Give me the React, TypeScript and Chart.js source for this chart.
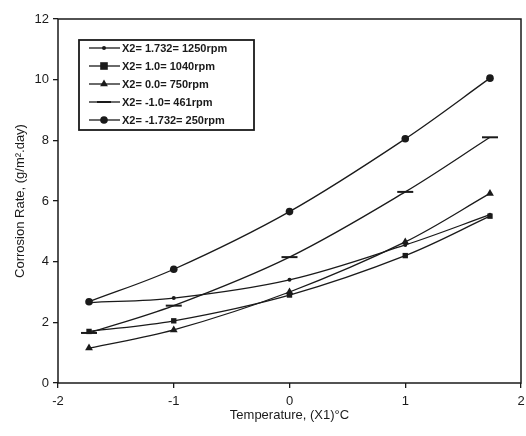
import React, { useEffect, useRef } from "react";
import { Chart, registerables } from "chart.js";

Chart.register(...registerables);

const xValues = [-1.732, -1, 0, 1, 1.732];
const seriesLabels = [
  "X2= 1.732= 1250rpm",
  "X2= 1.0= 1040rpm",
  "X2= 0.0= 750rpm",
  "X2= -1.0= 461rpm",
  "X2= -1.732= 250rpm",
];
const rpm1250 = [2.65, 2.8, 3.4, 4.55, 5.55];
const rpm1040 = [1.7, 2.05, 2.9, 4.2, 5.5];
const rpm750 = [1.15, 1.75, 3.0, 4.65, 6.25];
const rpm461 = [1.65, 2.55, 4.15, 6.3, 8.1];
const rpm250 = [2.68, 3.75, 5.65, 8.05, 10.05];
const xTicks = [-2, -1, 0, 1, 2];
const yTicks = [0, 2, 4, 6, 8, 10, 12];

const INK = "#1a1a1a";
const FONT = "'Liberation Sans', Arial, sans-serif";

const styles = [
  { pointStyle: "circle", radius: 2 },
  { pointStyle: "rect", radius: 3.8 },
  { pointStyle: "triangle", radius: 4.5 },
  { pointStyle: "line", radius: 8 },
  { pointStyle: "circle", radius: 3.8 },
];

const allSeries = [rpm1250, rpm1040, rpm750, rpm461, rpm250];

function drawMarker(ctx: any, style: string, r: number, x: number, y: number) {
  ctx.beginPath();
  if (style === "circle") {
    ctx.arc(x, y, r, 0, Math.PI * 2);
  } else if (style === "rect") {
    ctx.rect(x - r, y - r, r * 2, r * 2);
  } else if (style === "triangle") {
    ctx.moveTo(x, y - r);
    ctx.lineTo(x + r * 0.87, y + r * 0.5);
    ctx.lineTo(x - r * 0.87, y + r * 0.5);
    ctx.closePath();
  }
  ctx.fill();
}

const frameAndLegend = {
  id: "frameAndLegend",
  afterDraw(chart: any) {
    const ctx = chart.ctx;
    const a = chart.chartArea;
    ctx.save();
    ctx.strokeStyle = INK;
    ctx.lineWidth = 1.5;
    ctx.strokeRect(a.left, a.top, a.right - a.left, a.bottom - a.top);

    // legend box
    const bx = 79, by = 40, bw = 175, bh = 90;
    ctx.fillStyle = "#ffffff";
    ctx.fillRect(bx, by, bw, bh);
    ctx.lineWidth = 1.8;
    ctx.strokeRect(bx, by, bw, bh);
    const rows = [48, 66, 84, 102, 120];
    ctx.font = "bold 11px " + FONT;
    ctx.textBaseline = "middle";
    seriesLabels.forEach((lab, i) => {
      const y = rows[i];
      ctx.strokeStyle = INK;
      ctx.lineWidth = 1.3;
      ctx.beginPath();
      ctx.moveTo(89, y);
      ctx.lineTo(120, y);
      ctx.stroke();
      const st = styles[i];
      ctx.fillStyle = INK;
      if (st.pointStyle !== "line") {
        drawMarker(ctx, st.pointStyle, st.radius, 104, y);
      } else {
        ctx.lineWidth = 2;
        ctx.beginPath();
        ctx.moveTo(97, y);
        ctx.lineTo(111, y);
        ctx.stroke();
      }
      ctx.fillStyle = INK;
      ctx.textAlign = "left";
      ctx.fillText(lab, 122, y + 0.5);
    });
    ctx.restore();
  },
};

export default function App() {
  const ref = useRef<HTMLCanvasElement>(null);
  useEffect(() => {
    document.body.style.margin = "0";
    const datasets = allSeries.map((vals, i) => ({
      label: seriesLabels[i],
      data: vals.map((v, j) => ({ x: xValues[j], y: v })),
      borderColor: INK,
      backgroundColor: INK,
      borderWidth: 1.3,
      pointStyle: styles[i].pointStyle,
      pointRadius: styles[i].radius,
      pointBorderWidth: styles[i].pointStyle === "line" ? 2 : 0,
      pointBorderColor: INK,
      pointBackgroundColor: INK,
      tension: 0.35,
      fill: false,
    }));
    const chart = new Chart(ref.current!, {
      type: "line",
      data: { datasets },
      plugins: [frameAndLegend],
      options: {
        animation: false,
        responsive: false,
        maintainAspectRatio: false,
        layout: { autoPadding: false, padding: { top: 19, right: 5, left: 0, bottom: 0 } },
        plugins: { legend: { display: false }, tooltip: { enabled: false } },
        scales: {
          x: {
            type: "linear",
            min: -2,
            max: 2,
            afterBuildTicks: (s: any) => {
              s.ticks = xTicks.map((v) => ({ value: v }));
            },
            afterFit: (s: any) => {
              s.height = 53;
              s.paddingLeft = 0;
              s.paddingRight = 0;
            },
            grid: { display: true, drawOnChartArea: false, drawTicks: true, tickLength: 5, color: INK, lineWidth: 1.3 },
            border: { display: false },
            ticks: { color: INK, font: { family: FONT, size: 13 }, padding: 6, maxRotation: 0 },
            title: {
              display: true,
              text: "Temperature, (X1)°C",
              color: INK,
              font: { family: FONT, size: 13 },
              padding: { top: 0, bottom: 13 },
            },
          },
          y: {
            type: "linear",
            min: 0,
            max: 12,
            afterBuildTicks: (s: any) => {
              s.ticks = yTicks.map((v) => ({ value: v }));
            },
            afterFit: (s: any) => {
              s.width = 58;
              s.paddingTop = 0;
              s.paddingBottom = 0;
            },
            grid: { display: true, drawOnChartArea: false, drawTicks: true, tickLength: 5, color: INK, lineWidth: 1.3 },
            border: { display: false },
            ticks: { color: INK, font: { family: FONT, size: 13 }, padding: 4 },
            title: {
              display: true,
              text: "Corrosion Rate, (g/m².day)",
              color: INK,
              font: { family: FONT, size: 13 },
              padding: { top: 13, bottom: 0 },
            },
          },
        },
      } as any,
    });
    return () => chart.destroy();
  }, []);
  return (
    <div style={{ position: "fixed", left: 0, top: 0, width: 526, height: 436, background: "#fff" }}>
      <canvas ref={ref} width={526} height={436} />
    </div>
  );
}
